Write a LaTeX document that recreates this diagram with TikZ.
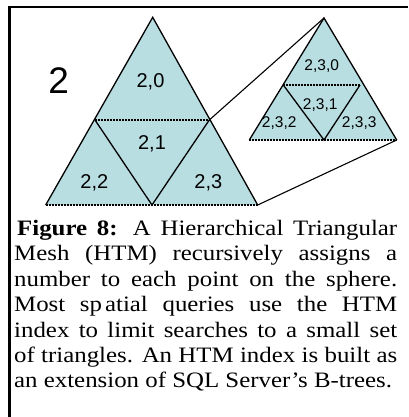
\documentclass[tikz,border=0pt]{standalone}
\usepackage{fontspec}
\setmainfont{Liberation Serif}
\newfontfamily\arialfont{Liberation Sans}
\newfontfamily\captionfont[FakeStretch=1.13, Ligatures=TeX]{Liberation Serif}
\definecolor{htmcyan}{RGB}{184,222,226}
\usetikzlibrary{positioning}

\begin{document}
\begin{tikzpicture}[x=1pt, y=-1pt,
  face/.style={fill=htmcyan, draw=none},
  side/.style={line width=1.3pt},
  split/.style={line width=1.3pt, dash pattern=on 2pt off 1pt},
  zoomline/.style={line width=1.1pt},
  frameline/.style={line width=2.3pt},
  bigid/.style={font=\arialfont\fontsize{20}{24}\selectfont, anchor=base, inner sep=0pt},
  smallid/.style={font=\arialfont\fontsize{15.5}{18}\selectfont, anchor=base, inner sep=0pt}
]
  \useasboundingbox (0,0) rectangle (408,417);
  % frame: top and left edge only
  \draw[frameline] (9.5,417) -- (9.5,6.7) -- (408,6.7);

  % level 2 triangle
  \coordinate (t2) at (152.7,17.3);
  \coordinate (l2) at (45.7,205);
  \coordinate (r2) at (257.7,205);
  \coordinate (lm2) at (95,120);
  \coordinate (rm2) at (209.3,120);
  \coordinate (bm2) at (152,205);
  \fill[face] (t2) -- (l2) -- (r2) -- cycle;
  \draw[split] (l2) -- (r2);
  \draw[split] (lm2) -- (rm2);
  \draw[side] (l2) -- (t2) -- (r2);
  \draw[side] (lm2) -- (bm2) -- (rm2);

  % level 3 triangle (child 2,3)
  \coordinate (t3) at (324,18);
  \coordinate (l3) at (249.3,140);
  \coordinate (r3) at (396.7,140);
  \coordinate (lm3) at (283.3,85);
  \coordinate (rm3) at (360,85);
  \coordinate (bm3) at (324,140);
  \fill[face] (t3) -- (l3) -- (r3) -- cycle;
  \draw[split] (l3) -- (r3);
  \draw[split] (lm3) -- (rm3);
  \draw[side] (l3) -- (t3) -- (r3);
  \draw[side] (lm3) -- (bm3) -- (rm3);

  % zoom lines
  \draw[zoomline] (rm2) -- (t3);
  \draw[zoomline] (r2) -- (r3);

  % ids
  \node[font=\arialfont\fontsize{37}{40}\selectfont, anchor=base, inner sep=0pt] (level) at (58.7,93.3) {2};
  \node[bigid] (id20) at (150.5,87.3) {2,0};
  \node[bigid] (id21) at (152,149) {2,1};
  \node[bigid] (id22) at (94.3,188.3) {2,2};
  \node[bigid] (id23) at (208.3,188.3) {2,3};
  \node[smallid] (id230) at (321.7,70.7) {2,3,0};
  \node[smallid] (id231) at (320.2,110) {2,3,1};
  \node[smallid] (id232) at (279.2,127.3) {2,3,2};
  \node[smallid] (id233) at (359.2,127.3) {2,3,3};

  % caption
  \node[anchor=north west, inner sep=0pt, align=left,
        font=\captionfont\fontsize{22}{25.4}\selectfont] (caption) at (14,220) {%
    \makebox[383pt][s]{\hspace{3pt}\textbf{Figure 8:} A Hierarchical Triangular}\\
    \makebox[383pt][s]{Mesh (HTM) recursively assigns a}\\
    \makebox[383pt][s]{number to each point on the sphere.}\\
    \makebox[383pt][s]{Most sp\kern3pt atial queries use the HTM}\\
    \makebox[383pt][s]{index to limit searches to a small set}\\
    \makebox[383pt][s]{of triangles. An HTM index is built as}\\
    an extension of SQL Server's B-trees.};
\end{tikzpicture}
\end{document}
